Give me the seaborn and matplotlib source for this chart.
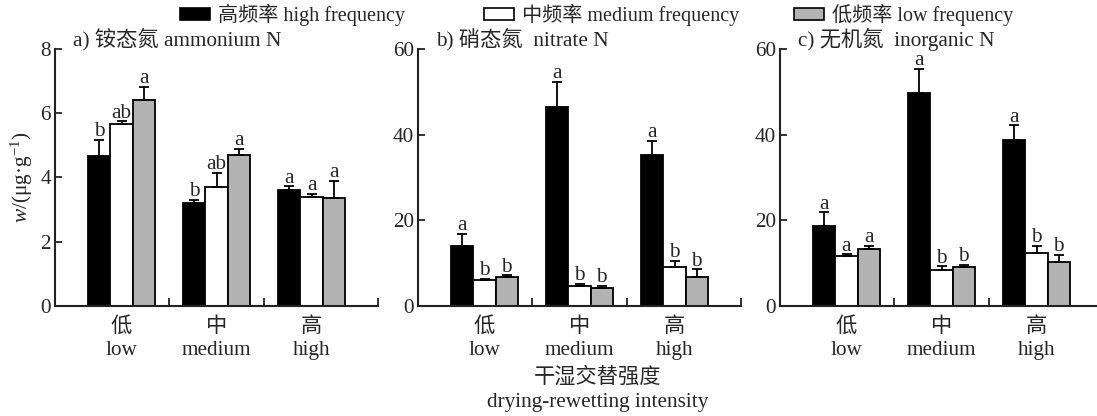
import numpy as np
import pandas as pd
import matplotlib
matplotlib.use('Agg')
import matplotlib.pyplot as plt
from matplotlib.patches import Patch
import seaborn as sns

# categorias
intensidades = ['低\nlow', '中\nmedium', '高\nhigh']
frecuencias = ['高频率 high frequency', '中频率 medium frequency', '低频率 low frequency']
colores = ['black', 'white', '#b3b3b3']

# a) amonio: medias y error (una lista por frecuencia, orden low/medium/high)
amonio_alta = [4.67, 3.22, 3.60]
amonio_media = [5.65, 3.70, 3.40]
amonio_baja = [6.42, 4.70, 3.37]
amonio_err_alta = [0.50, 0.08, 0.12]
amonio_err_media = [0.10, 0.45, 0.10]
amonio_err_baja = [0.40, 0.20, 0.53]
amonio_letras = [['b', 'b', 'a'], ['ab', 'ab', 'a'], ['a', 'a', 'a']]

# b) nitrato
nitrato_alta = [14.1, 46.5, 35.3]
nitrato_media = [6.0, 4.6, 9.0]
nitrato_baja = [6.7, 4.3, 6.8]
nitrato_err_alta = [2.8, 5.8, 3.3]
nitrato_err_media = [0.3, 0.6, 1.6]
nitrato_err_baja = [0.5, 0.4, 1.8]
nitrato_letras = [['a', 'a', 'a'], ['b', 'b', 'b'], ['b', 'b', 'b']]

# c) nitrogeno inorganico
inorg_alta = [18.7, 49.7, 38.8]
inorg_media = [11.7, 8.4, 12.4]
inorg_baja = [13.2, 9.1, 10.3]
inorg_err_alta = [3.2, 5.7, 3.4]
inorg_err_media = [0.4, 0.9, 1.6]
inorg_err_baja = [0.8, 0.5, 1.7]
inorg_letras = [['a', 'a', 'a'], ['a', 'b', 'b'], ['a', 'b', 'b']]

sns.set_style('ticks')
plt.rcParams['font.family'] = ['Liberation Serif', 'Noto Sans CJK SC']
plt.rcParams['mathtext.fontset'] = 'custom'
plt.rcParams['mathtext.rm'] = 'Liberation Serif'
plt.rcParams['mathtext.it'] = 'Liberation Serif:italic'
plt.rcParams['axes.unicode_minus'] = False

TAM = 15.3


def tabla(medias):
    filas = []
    for frec, valores in zip(frecuencias, medias):
        for inten, v in zip(intensidades, valores):
            filas.append({'intensidad': inten, 'frecuencia': frec, 'valor': v})
    return pd.DataFrame(filas)


def panel(ax, medias, errores, letras, titulo, ymax, yticks):
    datos = tabla(medias)
    sns.barplot(data=datos, x='intensidad', y='valor', hue='frecuencia',
                hue_order=frecuencias, order=intensidades, palette=colores,
                saturation=1, edgecolor='black', linewidth=1.3, width=0.7,
                errorbar=None, legend=False, ax=ax)
    for cont, err, let in zip(ax.containers, errores, letras):
        xs = [p.get_x() + p.get_width() / 2 for p in cont.patches]
        hs = [p.get_height() for p in cont.patches]
        ax.errorbar(xs, hs, yerr=[np.zeros(len(err)), err], fmt='none',
                    ecolor='black', elinewidth=1.3, capsize=3.3, capthick=1.3)
        for x, h, e, l in zip(xs, hs, err, let):
            ax.annotate(l, (x, h + e), xytext=(0, -1), textcoords='offset points',
                        ha='center', va='bottom', fontsize=TAM)
    ax.set_xlim(-0.7, 2.7)
    ax.set_ylim(0, ymax)
    ax.set_yticks(yticks)
    ax.set_xticks(range(3))
    ax.set_xticklabels(intensidades, linespacing=1.32)
    ax.set_xticks([0.5, 1.5, 2.7], minor=True)
    ax.tick_params(axis='x', which='major', length=0, pad=8, labelsize=TAM)
    ax.tick_params(axis='x', which='minor', direction='in', length=6, width=1.3, color='#222222')
    ax.tick_params(axis='y', direction='in', length=5, width=1.3, color='#222222', labelsize=TAM, pad=3)
    ax.set_xlabel('')
    ax.set_ylabel('')
    for s in ['top', 'right']:
        ax.spines[s].set_visible(False)
    for s in ['left', 'bottom']:
        ax.spines[s].set_linewidth(1.5)
        ax.spines[s].set_color('#222222')
    ax.text(0.056, 1.037, titulo, transform=ax.transAxes, va='center', ha='left', fontsize=TAM)


fig = plt.figure(figsize=(10.97, 4.16), dpi=100)
ancho = 323 / 1097
alto = 257 / 416
abajo = 110 / 416
ax1 = fig.add_axes([55 / 1097, abajo, ancho, alto])
ax2 = fig.add_axes([418 / 1097, abajo, ancho, alto])
ax3 = fig.add_axes([780 / 1097, abajo, ancho, alto])

panel(ax1, [amonio_alta, amonio_media, amonio_baja],
      [amonio_err_alta, amonio_err_media, amonio_err_baja], amonio_letras,
      'a) 铵态氮 ammonium N', 8, [0, 2, 4, 6, 8])
panel(ax2, [nitrato_alta, nitrato_media, nitrato_baja],
      [nitrato_err_alta, nitrato_err_media, nitrato_err_baja], nitrato_letras,
      'b) 硝态氮  nitrate N', 60, [0, 20, 40, 60])
panel(ax3, [inorg_alta, inorg_media, inorg_baja],
      [inorg_err_alta, inorg_err_media, inorg_err_baja], inorg_letras,
      'c) 无机氮  inorganic N', 60, [0, 20, 40, 60])

ax1.set_ylabel(r'$w$/(μg·g$^{-1}$)', fontsize=TAM, labelpad=4)

# etiqueta comun del eje x
fig.text(598 / 1097, 1 - 377 / 416, '干湿交替强度', ha='center', va='center', fontsize=TAM)
fig.text(598 / 1097, 1 - 402 / 416, 'drying-rewetting intensity', ha='center', va='center', fontsize=TAM)

# leyenda: una entrada por frecuencia
for frec, color, xpos in zip(frecuencias, colores, [180, 484, 794]):
    fig.legend(handles=[Patch(facecolor=color, edgecolor='black', linewidth=1.2, label=frec)],
               loc='center left', bbox_to_anchor=(xpos / 1097, 1 - 15 / 416),
               frameon=False, borderpad=0, borderaxespad=0, fontsize=14.5,
               handlelength=1.5, handleheight=0.55, handletextpad=0.4)

plt.savefig('out.png', dpi=100)
